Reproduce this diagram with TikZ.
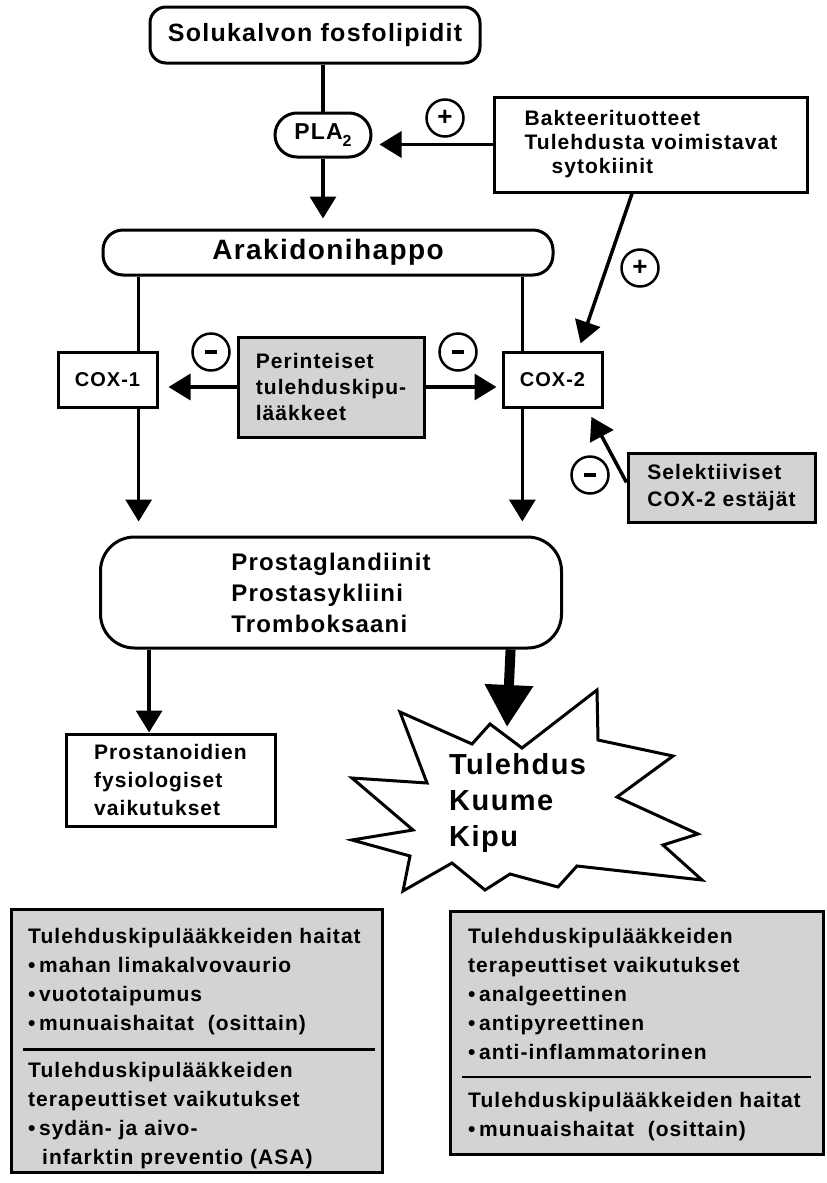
\documentclass[tikz,border=0pt]{standalone}
\usepackage{fontspec}
\setmainfont{Liberation Sans}[LetterSpace=5]
\usetikzlibrary{arrows.meta}
\definecolor{boxgray}{RGB}{211,211,211}
\newcommand{\fs}[2]{\fontsize{#1}{#2}\selectfont\bfseries}
\newcommand{\minusbar}{\rule{12pt}{4pt}}
\tikzset{
  box/.style={draw,line width=3pt,inner sep=0pt},
  graybox/.style={box,fill=boxgray},
  rbox/.style={box,rounded corners=#1},
  sign/.style={draw,circle,line width=2.5pt,minimum size=37pt,inner sep=0pt,font=\fs{26}{26}},
  link/.style={line width=3.5pt},
  arr/.style={link,-{Triangle[length=22pt,width=26pt]}},
  bigarr/.style={line width=10pt,-{Triangle[length=42pt,width=46pt]}},
  txt/.style={anchor=north west,align=left,inner sep=0pt,font=\fs{21}{29}}
}
\begin{document}
\begin{tikzpicture}[x=1pt,y=-1pt]
\useasboundingbox (0,0) rectangle (827,1183);
% boxes
\node[rbox=16pt,minimum width=330pt,minimum height=56pt,font=\fs{25}{30}] (sol) at (315,35) {Solukalvon fosfolipidit};
\node[rbox=22pt,minimum width=96pt,minimum height=44pt,font=\fs{23}{26}] (pla) at (323,135) {PLA\raisebox{-0.3em}{\fs{16}{16}2}};
\node[box,minimum width=313pt,minimum height=95pt,align=left,font=\fs{21}{24}] (bakt) at (651,144.5) {Bakteerituotteet\\Tulehdusta voimistavat\\\hspace*{27pt}sytokiinit};
\node[rbox=20pt,minimum width=450pt,minimum height=45pt,font=\fs{28}{30}] (arak) at (328,252.5) {Arakidonihappo};
\node[box,minimum width=99pt,minimum height=55pt,font=\fs{20}{24}] (cox1) at (107.5,379.5) {COX-1};
\node[box,minimum width=99pt,minimum height=55pt,font=\fs{20}{24}] (cox2) at (552.5,380) {COX-2};
\node[graybox,minimum width=186pt,minimum height=100pt,align=left,font=\fs{21}{26}] (perint) at (331,387) {Perinteiset\\tulehduskipu-\\lääkkeet};
\node[graybox,minimum width=187pt,minimum height=69pt,align=left,font=\fs{21}{27}] (selekt) at (721.5,487.5) {Selektiiviset\\COX-2 estäjät};
\node[rbox=34pt,minimum width=461pt,minimum height=111pt,align=left,font=\fs{24}{31}] (prost) at (331,592.5) {Prostaglandiinit\\Prostasykliini\\Tromboksaani};
\node[box,minimum width=209pt,minimum height=92pt,align=left,font=\fs{21}{28}] (fysio) at (170.5,780) {Prostanoidien\\fysiologiset\\vaikutukset};

% signs
\node[sign] (plus1) at (445,118) {+};
\node[sign] (plus2) at (640,268) {+};
\node[sign] (minus1) at (211,352) {\minusbar};
\node[sign] (minus2) at (458,352) {\minusbar};
\node[sign] (minus3) at (590,475) {\minusbar};

% star
\draw[line width=3pt] (400,712) -- (472,744) -- (490,724) -- (522,748) -- (597,690) -- (598,740)
  -- (673,756) -- (617,797) -- (698,834) -- (663,845) -- (702,880) -- (577,866) -- (558,887)
  -- (510,874) -- (485,890) -- (452,863) -- (403,891) -- (410,856) -- (352,840) -- (413,830)
  -- (352,778) -- (427,783) -- cycle;
\node[anchor=west,align=left,inner sep=0pt,font=\fs{29}{36}] (oire) at (449,803) {Tulehdus\\Kuume\\Kipu};
\coordinate (oiretop) at (507,727);

% bottom boxes
\node[graybox,anchor=north west,minimum width=371pt,minimum height=263pt] (haitat) at (10,908) {};
\node[graybox,anchor=north west,minimum width=373pt,minimum height=243pt] (hyodyt) at (449,910) {};
\node[txt] (haitat1) at (28,928) {Tulehduskipulääkkeiden haitat\\•\,mahan limakalvovaurio\\•\,vuototaipumus\\•\,munuaishaitat\ \ (osittain)};
\node[txt] (haitat2) at (28,1062) {Tulehduskipulääkkeiden\\terapeuttiset vaikutukset\\•\,sydän- ja aivo-\\\hspace*{14pt}infarktin preventio (ASA)};
\node[txt] (hyodyt1) at (468,928) {Tulehduskipulääkkeiden\\terapeuttiset vaikutukset\\•\,analgeettinen\\•\,antipyreettinen\\•\,anti-inflammatorinen};
\node[txt] (hyodyt2) at (468,1092) {Tulehduskipulääkkeiden haitat\\•\,munuaishaitat\ \ (osittain)};
\path (haitat.north west) -- (haitat.south west) coordinate[pos=0.532] (h1);
\draw[line width=2.5pt] ([xshift=13pt]h1) -- ([xshift=-9pt]h1 -| haitat.east);
\path (hyodyt.north west) -- (hyodyt.south west) coordinate[pos=0.679] (h2);
\draw[line width=2.5pt] ([xshift=13pt]h2) -- ([xshift=-14pt]h2 -| hyodyt.east);

% connectors
\draw[link] (pla.north |- sol.south) -- (pla.north);
\draw[arr,shorten >=10pt] (pla.south) -- (pla.south |- arak.north);
\draw[arr,shorten >=7pt] (bakt.west) -- (bakt.west -| pla.east);
\path (bakt.south west) -- (bakt.south east) coordinate[pos=0.44] (b1);
\path (cox2.north west) -- (cox2.north east) coordinate[pos=0.75] (c2n);
\draw[arr,shorten >=8pt] (b1) -- (c2n);
\path (arak.south west) -- (arak.south east) coordinate[pos=0.082] (a1);
\path (arak.south west) -- (arak.south east) coordinate[pos=0.929] (a2);
\draw[link] (a1) -- (a1 |- cox1.north);
\draw[link] (a2) -- (a2 |- cox2.north);
\draw[arr,shorten >=14pt] (a1 |- cox1.south) -- (a1 |- prost.north);
\draw[arr,shorten >=14pt] (a2 |- cox2.south) -- (a2 |- prost.north);
\draw[arr,shorten >=10pt] (perint.west) -- (perint.west -| cox1.east);
\draw[arr,shorten >=5pt] (perint.east) -- (perint.east -| cox2.west);
\path (selekt.north west) -- (selekt.south west) coordinate[pos=0.43] (s1);
\path (cox2.south west) -- (cox2.south east) coordinate[pos=0.84] (c2s);
\draw[arr,shorten >=9pt] (s1) -- (c2s);
\path (prost.south west) -- (prost.south east) coordinate[pos=0.108] (p1);
\path (prost.south west) -- (prost.south east) coordinate[pos=0.887] (p2);
\draw[arr] (p1) -- (p1 |- fysio.north);
\draw[bigarr] (p2) -- (oiretop);
\end{tikzpicture}
\end{document}
